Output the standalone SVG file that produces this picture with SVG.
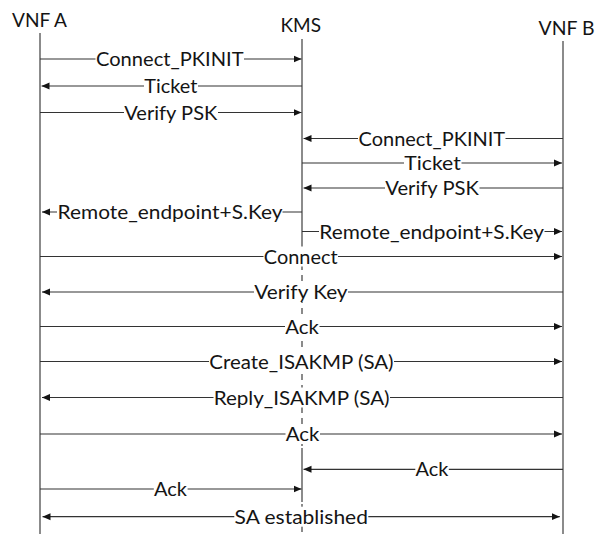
<svg xmlns="http://www.w3.org/2000/svg" width="595" height="534" viewBox="0 0 595 534">
<defs>
<style>
.hdr{font-family:Lato,"Liberation Sans",sans-serif;font-size:19.5px;fill:#141414}
.lbl{font-family:Lato,"Liberation Sans",sans-serif;font-size:19.5px;fill:#141414}
.life{stroke:#6e6e6e;stroke-width:1.6;fill:none}
.dash{stroke-dasharray:6 5}
.msg{stroke:#333333;stroke-width:1.2;fill:none;marker-end:url(#ah)}
.both{marker-start:url(#ah)}
.bg{fill:#ffffff}
</style>
<marker id="ah" markerUnits="userSpaceOnUse" markerWidth="8" markerHeight="8" viewBox="0 0 8 8" refX="8" refY="4" orient="auto-start-reverse">
<path d="M0,0.5 L8,4 L0,7.5 z" fill="#141414"/>
</marker>
</defs>
<rect width="595" height="534" fill="#ffffff"/>

<g id="vnfA">
<line class="life" x1="40" y1="33" x2="40" y2="534"/>
<text class="hdr" x="12" y="26.7" textLength="55" lengthAdjust="spacingAndGlyphs">VNF A</text>
</g>
<g id="kms">
<line class="life" x1="302" y1="39" x2="302" y2="242"/>
<line class="life dash" x1="302" y1="242" x2="302" y2="448"/>
<line class="life" x1="302" y1="448" x2="302" y2="502"/>
<line class="life dash" x1="302" y1="504" x2="302" y2="534"/>
<text class="hdr" x="280.5" y="32" textLength="40.5" lengthAdjust="spacingAndGlyphs">KMS</text>
</g>
<g id="vnfB">
<line class="life" x1="563" y1="41" x2="563" y2="534"/>
<text class="hdr" x="538.5" y="34.5" textLength="56" lengthAdjust="spacingAndGlyphs">VNF B</text>
</g>

<g id="connectors">
<g id="m1"><line class="msg" x1="40" y1="59" x2="301.5" y2="59"/><rect class="bg" x="95.5" y="49" width="148.5" height="20"/><text class="lbl" x="96" y="66" textLength="147.5" lengthAdjust="spacingAndGlyphs">Connect_PKINIT</text></g>
<g id="m2"><line class="msg" x1="302" y1="86" x2="41.5" y2="86"/><rect class="bg" x="144" y="76" width="54" height="20"/><text class="lbl" x="144.3" y="93" textLength="53" lengthAdjust="spacingAndGlyphs">Ticket</text></g>
<g id="m3"><line class="msg" x1="40" y1="112.5" x2="301.5" y2="112.5"/><rect class="bg" x="124" y="102.5" width="94" height="20"/><text class="lbl" x="124.3" y="119.5" textLength="93" lengthAdjust="spacingAndGlyphs">Verify PSK</text></g>
<g id="m4"><line class="msg" x1="563" y1="138.5" x2="303.5" y2="138.5"/><rect class="bg" x="358" y="128.5" width="147.5" height="20"/><text class="lbl" x="358.6" y="145.5" textLength="146.5" lengthAdjust="spacingAndGlyphs">Connect_PKINIT</text></g>
<g id="m5"><line class="msg" x1="302" y1="163" x2="562" y2="163"/><rect class="bg" x="404" y="153" width="57.5" height="20"/><text class="lbl" x="404.3" y="170" textLength="56.5" lengthAdjust="spacingAndGlyphs">Ticket</text></g>
<g id="m6"><line class="msg" x1="563" y1="188" x2="303.5" y2="188"/><rect class="bg" x="385" y="178" width="94.5" height="20"/><text class="lbl" x="385.3" y="195" textLength="93.5" lengthAdjust="spacingAndGlyphs">Verify PSK</text></g>
<g id="m7"><line class="msg" x1="302" y1="212" x2="42" y2="212"/><rect class="bg" x="57" y="202" width="225.5" height="20"/><text class="lbl" x="57.6" y="219" textLength="224.8" lengthAdjust="spacingAndGlyphs">Remote_endpoint+S.Key</text></g>
<g id="m8"><line class="msg" x1="302" y1="231.5" x2="562" y2="231.5"/><rect class="bg" x="319" y="221.5" width="225.5" height="20"/><text class="lbl" x="319.3" y="238.5" textLength="224.8" lengthAdjust="spacingAndGlyphs">Remote_endpoint+S.Key</text></g>
<g id="m9"><line class="msg" x1="40" y1="256.5" x2="562" y2="256.5"/><rect class="bg" x="263.5" y="246.5" width="74.5" height="20"/><text class="lbl" x="263.8" y="263.5" textLength="73.8" lengthAdjust="spacingAndGlyphs">Connect</text></g>
<g id="m10"><line class="msg" x1="563" y1="292" x2="42" y2="292"/><rect class="bg" x="254" y="282" width="94" height="20"/><text class="lbl" x="254.3" y="299" textLength="93.3" lengthAdjust="spacingAndGlyphs">Verify Key</text></g>
<g id="m11"><line class="msg" x1="40" y1="326.5" x2="562" y2="326.5"/><rect class="bg" x="285" y="316.5" width="34.5" height="20"/><text class="lbl" x="285.3" y="333.5" textLength="33.5" lengthAdjust="spacingAndGlyphs">Ack</text></g>
<g id="m12"><line class="msg" x1="40" y1="361.5" x2="562" y2="361.5"/><rect class="bg" x="209" y="351.5" width="185" height="20"/><text class="lbl" x="209.3" y="368.5" textLength="184.3" lengthAdjust="spacingAndGlyphs">Create_ISAKMP (SA)</text></g>
<g id="m13"><line class="msg" x1="563" y1="397.5" x2="42" y2="397.5"/><rect class="bg" x="213.5" y="387.5" width="176.5" height="20"/><text class="lbl" x="213.7" y="404.5" textLength="175.9" lengthAdjust="spacingAndGlyphs">Reply_ISAKMP (SA)</text></g>
<g id="m14"><line class="msg" x1="40" y1="434" x2="562" y2="434"/><rect class="bg" x="285.5" y="424" width="34.5" height="20"/><text class="lbl" x="285.8" y="441" textLength="33.5" lengthAdjust="spacingAndGlyphs">Ack</text></g>
<g id="m15"><line class="msg" x1="563" y1="469.3" x2="303.5" y2="469.3"/><rect class="bg" x="415.3" y="459.3" width="33.5" height="20"/><text class="lbl" x="415.6" y="476.3" textLength="32.8" lengthAdjust="spacingAndGlyphs">Ack</text></g>
<g id="m16"><line class="msg" x1="40" y1="489" x2="301.5" y2="489"/><rect class="bg" x="153.8" y="479" width="33.8" height="20"/><text class="lbl" x="154.1" y="496" textLength="32.9" lengthAdjust="spacingAndGlyphs">Ack</text></g>
<g id="m17"><line class="msg both" x1="42.5" y1="516.7" x2="559.8" y2="516.7"/><rect class="bg" x="234.3" y="506.7" width="134" height="20"/><text class="lbl" x="234.6" y="523.7" textLength="133.3" lengthAdjust="spacingAndGlyphs">SA established</text></g>
</g>
</svg>
